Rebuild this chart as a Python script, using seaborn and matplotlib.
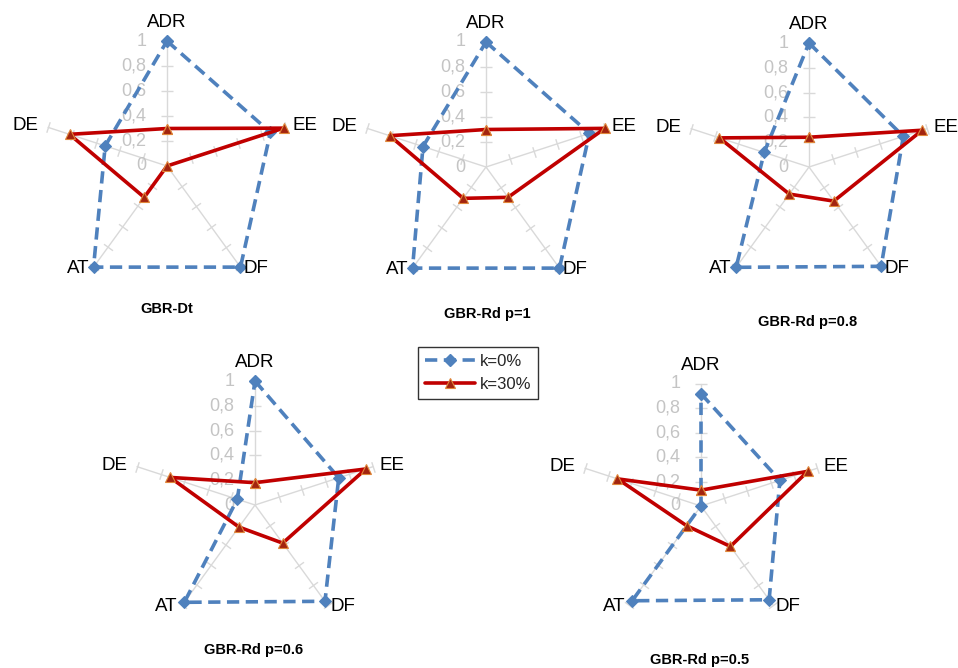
import numpy as np
import pandas as pd
import matplotlib
matplotlib.use("Agg")
import matplotlib.pyplot as plt
from matplotlib.lines import Line2D
import seaborn as sns

# ---------------- data ----------------
categories = ["ADR", "EE", "DF", "AT", "DE"]
titles = ["GBR-Dt", "GBR-Rd p=1", "GBR-Rd p=0.8", "GBR-Rd p=0.6", "GBR-Rd p=0.5"]
series_names = ["k=0%", "k=30%"]

k0_dt = [1.00, 0.87, 1.00, 1.00, 0.52]
k0_p1 = [1.00, 0.87, 1.00, 1.00, 0.53]
k0_p08 = [1.00, 0.80, 0.99, 1.00, 0.38]
k0_p06 = [1.00, 0.71, 0.96, 0.97, 0.15]
k0_p05 = [0.92, 0.68, 0.95, 0.96, 0.00]

k30_dt = [0.30, 0.98, 0.00, 0.31, 0.82]
k30_p1 = [0.30, 1.00, 0.30, 0.31, 0.81]
k30_p08 = [0.24, 0.96, 0.34, 0.27, 0.76]
k30_p06 = [0.18, 0.94, 0.38, 0.22, 0.72]
k30_p05 = [0.13, 0.92, 0.41, 0.20, 0.72]

radial_ticks = [0, 0.2, 0.4, 0.6, 0.8, 1.0]
radial_labels = ["0", "0,2", "0,4", "0,6", "0,8", "1"]

k0_all = [k0_dt, k0_p1, k0_p08, k0_p06, k0_p05]
k30_all = [k30_dt, k30_p1, k30_p08, k30_p06, k30_p05]

# ---------------- style ----------------
sns.set_theme(style="white")
plt.rcParams["font.family"] = ["Liberation Sans", "DejaVu Sans"]

BLUE = "#4f81bd"
RED = "#c00000"
TRI_FACE = "#a3240f"
TRI_EDGE = "#e0873a"
SPOKE = "#d9d9d9"
TICKLAB = "#c4c4c4"

W, H = 958, 668
fig = plt.figure(figsize=(W / 100, H / 100), dpi=100)

# chart centers (px) and radius (px)
centers = [(167, 166), (486, 167), (809, 167), (255, 505), (701, 506)]
radii = [125, 125, 124, 124, 122]
title_pos = [(167, 309), (487, 314), (808, 322), (254, 650), (700, 660)]

n = len(categories)
theta = np.linspace(0, 2 * np.pi, n, endpoint=False)
theta_closed = np.append(theta, 2 * np.pi)

label_offsets = {
    "ADR": ((0, 7), "center", "bottom"),
    "EE": ((5, 1), "left", "center"),
    "DF": ((2, -1), "left", "center"),
    "AT": ((-3, -1), "right", "center"),
    "DE": ((-7, 1), "right", "center"),
}

for i in range(5):
    cx, cy = centers[i]
    r = radii[i]
    ax = fig.add_axes([(cx - r) / W, 1 - (cy + r) / H, 2 * r / W, 2 * r / H],
                      projection="polar")
    ax.set_theta_zero_location("N")
    ax.set_theta_direction(-1)
    ax.patch.set_alpha(0)

    # spokes with cross ticks
    for th in theta:
        ax.plot([th, th], [0, 1], color=SPOKE, lw=1.0, zorder=1, clip_on=False)
        ax.plot([th] * 5, radial_ticks[1:], linestyle="none",
                marker=(2, 0, 90 - np.degrees(th)), markersize=8,
                markeredgewidth=1.0, color=SPOKE, zorder=1, clip_on=False)

    df0 = pd.DataFrame({"theta": theta_closed,
                        "r": list(k0_all[i]) + [k0_all[i][0]]})
    df1 = pd.DataFrame({"theta": theta_closed,
                        "r": list(k30_all[i]) + [k30_all[i][0]]})

    sns.lineplot(data=df0, x="theta", y="r", sort=False, estimator=None, ax=ax,
                 color=BLUE, linestyle=(0, (3.4, 1.8)), lw=2.6, marker="D",
                 markersize=6, markerfacecolor=BLUE, markeredgecolor=BLUE,
                 zorder=3)
    sns.lineplot(data=df1, x="theta", y="r", sort=False, estimator=None, ax=ax,
                 color=RED, lw=2.6, marker="^", markersize=7.5,
                 markerfacecolor=TRI_FACE, markeredgecolor=TRI_EDGE,
                 markeredgewidth=0.8, zorder=4)

    for ln in ax.lines:
        ln.set_clip_on(False)

    ax.set_ylim(0, 1)
    ax.grid(False)
    ax.spines["polar"].set_visible(False)
    ax.set_xticks([])
    ax.set_yticks([])
    ax.set_xlabel("")
    ax.set_ylabel("")

    # radial tick labels along ADR axis
    for val, lab in zip(radial_ticks, radial_labels):
        ax.annotate(lab, xy=(0, val), xytext=(-15, 0), textcoords="offset points",
                    ha="right", va="center", fontsize=13, color=TICKLAB,
                    annotation_clip=False, zorder=2)

    # category labels
    for th, cat in zip(theta, categories):
        (dx, dy), ha, va = label_offsets[cat]
        ax.annotate(cat, xy=(th, 1.0), xytext=(dx, dy), textcoords="offset points",
                    ha=ha, va=va, fontsize=13.5, color="black",
                    annotation_clip=False)

    tx, ty = title_pos[i]
    fig.text(tx / W, 1 - ty / H, titles[i], ha="center", va="center",
             fontsize=10.5, fontweight="bold", color="black")

handles = [
    Line2D([], [], color=BLUE, linestyle=(0, (3.4, 1.8)), lw=2.6, marker="D",
           markersize=6, markerfacecolor=BLUE, markeredgecolor=BLUE),
    Line2D([], [], color=RED, lw=2.6, marker="^", markersize=7.5,
           markerfacecolor=TRI_FACE, markeredgecolor=TRI_EDGE, markeredgewidth=0.8),
]
leg = fig.legend(handles, series_names, loc="center",
                 bbox_to_anchor=(478 / W, 1 - 373 / H), frameon=True,
                 fancybox=False, edgecolor="black", fontsize=12,
                 handlelength=3.0, borderpad=0.4, labelspacing=0.5,
                 handletextpad=0.3)
leg.get_frame().set_linewidth(1.0)

fig.savefig("out.png", dpi=100)
